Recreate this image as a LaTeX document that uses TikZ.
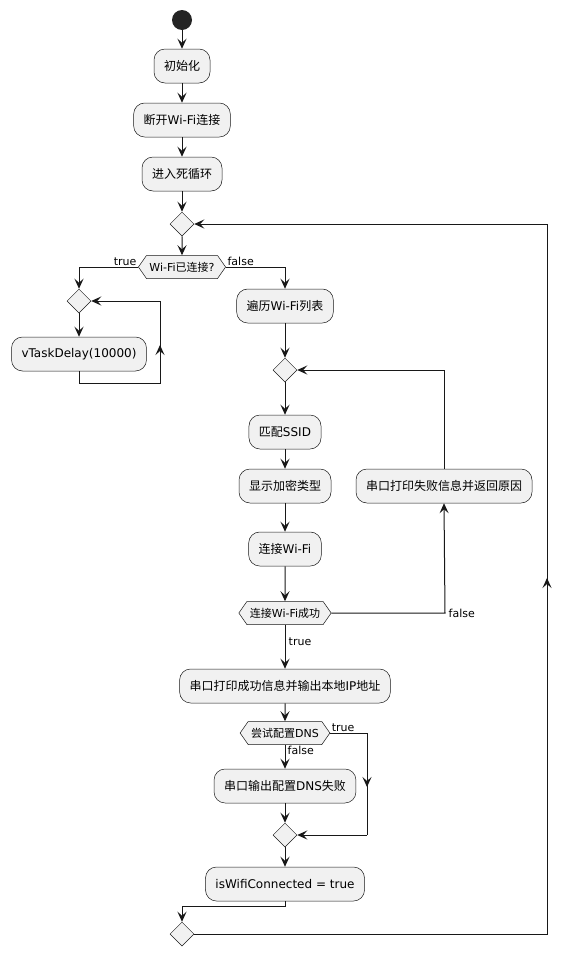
\documentclass[tikz,border=0pt]{standalone}
\usepackage{fontspec}
\setmainfont{DejaVu Sans}
\newfontfamily\cjk{Noto Sans CJK SC}
\usetikzlibrary{arrows.meta,shapes.geometric,shapes.symbols}
\definecolor{fillc}{HTML}{F1F1F1}
\definecolor{linec}{HTML}{181818}
\newcommand{\zh}[1]{{\cjk #1}}
\begin{document}
\begin{tikzpicture}[x=1pt,y=-1pt,
 act/.style={draw=linec, line width=0.5pt, fill=fillc, rounded corners=11pt, minimum height=34pt, inner xsep=10pt, font=\fontsize{12}{14}\selectfont},
 hexa/.style={draw=linec, line width=0.5pt, fill=fillc, shape=signal, signal to=west and east, signal pointer angle=110, minimum height=23pt, inner xsep=3pt, inner ysep=0pt, font=\fontsize{11}{13}\selectfont},
 merge/.style={draw=linec, line width=0.5pt, fill=fillc, diamond, minimum width=24pt, minimum height=24pt, inner sep=0pt},
 flow/.style={draw=linec, line width=1pt, -{Stealth[length=10pt,width=9pt,inset=4pt]}},
 plain/.style={draw=linec, line width=1pt},
 lbl/.style={font=\fontsize{11}{13}\selectfont, inner sep=1.5pt}]
\useasboundingbox[fill=white] (0,0) rectangle (571,956);

\node[circle, fill=linec!95, minimum size=20pt, inner sep=0pt] (start) at (182,20) {};
\node[act] (a1) at (182,66) {\zh{初始化}};
\node[act] (a2) at (182,120) {\zh{断开}Wi-Fi\zh{连接}};
\node[act] (a3) at (182,174) {\zh{进入死循环}};
\node[merge] (m1) at (182,224) {};
\node[hexa] (d1) at (182,267) {Wi-Fi\zh{已连接}?};
\node[merge] (m2) at (79,301) {};
\node[act] (b1) at (79,354) {vTaskDelay(10000)};
\node[act] (c1) at (285,306) {\zh{遍历}Wi-Fi\zh{列表}};
\node[merge] (m3) at (285,370) {};
\node[act] (c2) at (285,432) {\zh{匹配}SSID};
\node[act] (c3) at (285,486) {\zh{显示加密类型}};
\node[act] (c4) at (285,549) {\zh{连接}Wi-Fi};
\node[hexa] (d2) at (285,613) {\zh{连接}Wi-Fi\zh{成功}};
\node[act] (e1) at (444,486) {\zh{串口打印失败信息并返回原因}};
\node[act] (c5) at (285,686) {\zh{串口打印成功信息并输出本地}IP\zh{地址}};
\node[hexa] (d3) at (285,733) {\zh{尝试配置}DNS};
\node[act] (c6) at (285,786) {\zh{串口输出配置}DNS\zh{失败}};
\node[merge] (m4) at (285,835) {};
\node[act] (c7) at (285,884) {isWifiConnected = true};
\node[merge] (m5) at (182,934) {};

\coordinate (lA) at (160,383);
\coordinate (lMid) at (160,345);
\coordinate (fA) at (445,613);
\coordinate (tA) at (367,733);
\coordinate (tMid) at (367,787);
\coordinate (kA) at (285,906);
\coordinate (oA) at (547,934);
\coordinate (oMid) at (547,578);

\draw[flow] (start) -- (a1);
\draw[flow] (a1) -- (a2);
\draw[flow] (a2) -- (a3);
\draw[flow] (a3) -- (m1);
\draw[flow] (m1) -- (d1);
\draw[flow] (d1.west) -| (m2.north);
\draw[flow] (m2) -- (b1);
\draw[plain] (b1.south) |- (lA) -- (lA |- m2.east);
\draw[flow] (lA) -- (lMid);
\draw[flow] (lA |- m2.east) -- (m2.east);
\draw[flow] (d1.east) -| (c1.north);
\draw[flow] (c1) -- (m3);
\draw[flow] (m3) -- (c2);
\draw[flow] (c2) -- (c3);
\draw[flow] (c3) -- (c4);
\draw[flow] (c4) -- (d2);
\draw[flow] (d2.east) -- (fA) -- (e1.south);
\draw[flow] (e1.north) |- (m3.east);
\draw[flow] (d2.south) -- (c5.north);
\draw[flow] (c5) -- (d3);
\draw[flow] (d3.south) -- (c6.north);
\draw[plain] (d3.east) -- (tA) -- (tA |- m4.east);
\draw[flow] (tA) -- (tMid);
\draw[flow] (tA |- m4.east) -- (m4.east);
\draw[flow] (c6) -- (m4);
\draw[flow] (m4) -- (c7);
\draw[flow] (c7.south) -- (kA) -| (m5.north);
\draw[plain] (m5.east) -- (oA) -- (oA |- m1.east);
\draw[flow] (oA) -- (oMid);
\draw[flow] (oA |- m1.east) -- (m1.east);

\node[lbl, anchor=south east] (t1) at (d1.west) {true};
\node[lbl, anchor=south west] (f1) at (d1.east) {false};
\node[lbl, anchor=west] (f2) at ([xshift=2pt]fA) {false};
\node[lbl, anchor=west] (t2) at (287,642) {true};
\node[lbl, anchor=south west] (t3) at (d3.east) {true};
\node[lbl, anchor=north west] (f3) at ([xshift=1pt]d3.south) {false};
\end{tikzpicture}
\end{document}
